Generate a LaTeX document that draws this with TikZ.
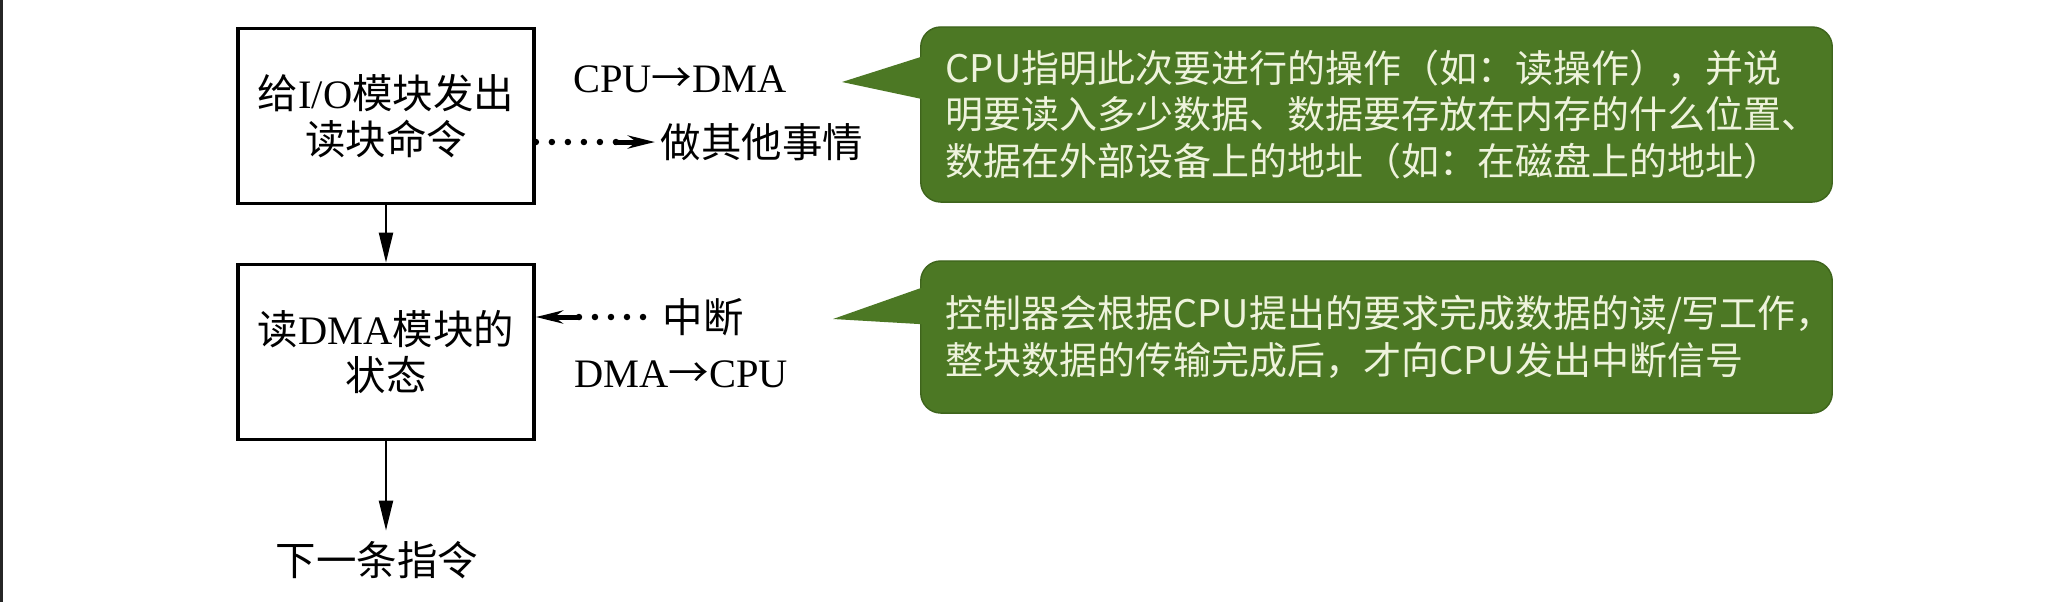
\documentclass[tikz,border=0pt]{standalone}
\usepackage{fontspec}
\setmainfont{Liberation Serif}
\newfontfamily\cjk{Noto Sans CJK SC}
\usetikzlibrary{arrows.meta,calc}
\definecolor{callgreen}{RGB}{76,120,36}
\definecolor{calledge}{RGB}{62,100,28}
\definecolor{calltext}{RGB}{238,243,220}
\begin{document}
\begin{tikzpicture}[x=0.01cm,y=-0.01cm,
  flowbox/.style={draw, line width=0.036cm, minimum width=2.96cm, minimum height=1.75cm,
    inner sep=0pt, align=center, font=\fontsize{11.5pt}{13.2pt}\selectfont},
  lbl/.style={inner sep=0pt, font=\fontsize{11.5pt}{13.2pt}\selectfont},
  flowarrow/.style={line width=0.022cm, -{Triangle[length=0.3cm,width=0.14cm]}},
  dotline/.style={line width=0.065cm, line cap=round, dash pattern=on 0pt off 0.16cm},
  dottip/.style={line width=0.05cm, -{Stealth[length=0.27cm,width=0.13cm]}},
  callout/.style={fill=callgreen, draw=calledge, line width=0.4pt, rounded corners=0.2cm,
    minimum width=9.11cm, inner xsep=0.25cm, text width=8.61cm, align=left,
    text=calltext, font=\cjk\fontsize{10.8pt}{13.2pt}\selectfont},
]
\useasboundingbox (0,0) rectangle (2048,602);
\fill[white] (0,0) rectangle (2048,602);
\draw[line width=0.03cm, black!85] (1.5,0) -- (1.5,602);

% flow boxes
\node[flowbox] (box1) at (386,116) {{\cjk 给}I/O{\cjk 模块发出}\\{\cjk 读块命令}};
\node[flowbox] (box2) at (386,352) {{\cjk 读}DMA{\cjk 模块的}\\{\cjk 状态}};

% labels
\node[lbl] (cpudma) at (680,79) {CPU{\cjk →}DMA};
\node[lbl, anchor=west] (other) at (660,142) {\cjk 做其他事情};
\node[lbl, anchor=west] (intr) at (662,317) {\cjk 中断};
\node[lbl] (dmacpu) at (681,374) {DMA{\cjk →}CPU};
\node[lbl] (next) at (377,560) {\cjk 下一条指令};

% solid connectors
\draw[flowarrow] (box1) -- (box2);
\draw[flowarrow, shorten >=0.1cm] (box2.south) -- (box2.south |- next.north);

% dotted connectors
\draw[dotline] (box1.east |- other.west) -- ($(other.west)+(-44,0)$);
\draw[dottip] ($(other.west)+(-46,0)$) -- ($(other.west)+(-5,0)$);
\draw[dotline] ($(intr.west)+(-19,0)$) -- ($(box2.east |- intr.west)+(40,0)$);
\draw[dottip] ($(box2.east |- intr.west)+(42,0)$) -- (box2.east |- intr.west);

% callouts
\node[callout, minimum height=1.75cm] (call1) at (1376.5,114.5)
  {CPU指明此次要进行的操作（如：读操作），并说\\明要读入多少数据、数据要存放在内存的什么位置、\\数据在外部设备上的地址（如：在磁盘上的地址）};
\coordinate (tip1) at (842,82);
\fill[callgreen] ($(call1.north west)+(3,30)$) -- (tip1) -- ($(call1.north west)+(3,73)$) -- cycle;

\node[callout, minimum height=1.52cm] (call2) at (1376.5,337)
  {控制器会根据CPU提出的要求完成数据的读/写工作，\\整块数据的传输完成后，才向CPU发出中断信号};
\coordinate (tip2) at (833,319);
\fill[callgreen] ($(call2.north west)+(3,27)$) -- (tip2) -- ($(call2.north west)+(3,64)$) -- cycle;
\end{tikzpicture}
\end{document}
